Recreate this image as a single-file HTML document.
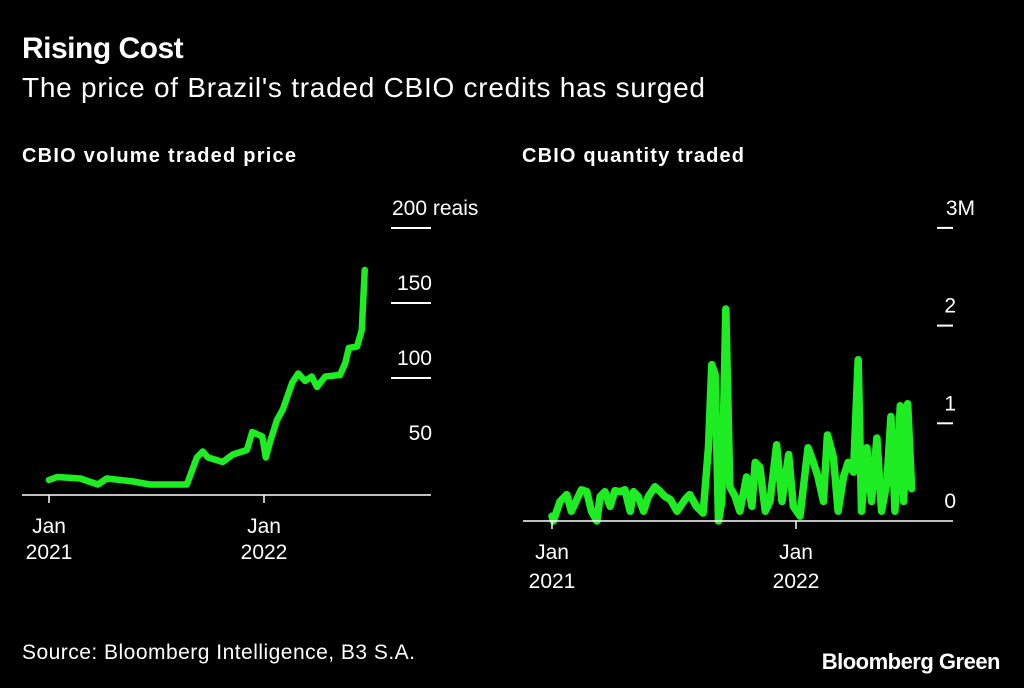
<!DOCTYPE html>
<html><head><meta charset="utf-8"><style>
body{margin:0;background:#000;width:1024px;height:683px;overflow:hidden;font-family:"Liberation Sans",Arial,sans-serif;color:#fff}
</style></head><body>
<svg width="1024" height="683" xmlns="http://www.w3.org/2000/svg" font-family="Liberation Sans, Arial, sans-serif">
<rect width="1024" height="683" fill="#000"/>
<text x="22" y="58" font-size="30" font-weight="bold" fill="#fff" letter-spacing="-0.5">Rising Cost</text>
<text x="22" y="97" font-size="28" fill="#fff" textLength="683">The price of Brazil's traded CBIO credits has surged</text>
<text x="22" y="162" font-size="20" font-weight="bold" fill="#fff" textLength="274">CBIO volume traded price</text>
<text x="522" y="162" font-size="20" font-weight="bold" fill="#fff" textLength="222">CBIO quantity traded</text>
<text x="22" y="659" font-size="21" fill="#fff" textLength="393">Source: Bloomberg Intelligence, B3 S.A.</text>
<text x="1000" y="669" font-size="22" font-weight="bold" fill="#fff" text-anchor="end" letter-spacing="-0.5">Bloomberg Green</text>
<g id="left"></g>
<g id="right"></g>
</svg>
<script>
const priceDays=[0,14,53,83,98,143,171,234,251,261,270,295,312,336,345,362,368,375,387,397,413,423,435,446,455,469,494,503,509,523,531,536];
const priceVals=[32,34,33,29,33,31,29,29,47,51,47,44,49,52,64,61,47,57,72,79,97,103,98,101,94,101,102,110,120,121,132,172];
const priceTicks=[200,150,100,50];
const qtyDays=[0,2,12,22,29,44,52,59,67,72,79,87,94,102,109,117,122,129,137,144,154,162,169,177,187,199,206,216,226,234,239,244,249,254,260,266,274,281,291,299,304,311,319,326,336,344,354,361,371,383,391,398,406,412,421,428,436,443,451,458,463,471,478,486,493,501,507,513,521,526,532,538];
const qtyVals=[0.05,0.0,0.2,0.27,0.1,0.32,0.3,0.1,0.0,0.25,0.3,0.15,0.31,0.3,0.32,0.1,0.3,0.25,0.1,0.25,0.35,0.3,0.25,0.22,0.1,0.22,0.27,0.15,0.08,0.75,1.6,1.5,0.0,0.2,2.17,0.35,0.25,0.1,0.45,0.15,0.6,0.55,0.1,0.2,0.78,0.2,0.68,0.15,0.05,0.75,0.6,0.45,0.2,0.88,0.65,0.1,0.45,0.6,0.5,1.65,0.1,0.75,0.2,0.85,0.1,0.4,1.07,0.1,1.18,0.2,1.2,0.33];
const qtyTicks=[3,2,1,0];
const qtyTickLabels=["3M","2","1","0"];
const xTickDays=[0,365];
const xTickLabels=[["Jan","2021"],["Jan","2022"]];
const NS="http://www.w3.org/2000/svg";
function mk(p,t,a){const e=document.createElementNS(NS,t);for(const k in a)e.setAttribute(k,a[k]);p.appendChild(e);return e;}
const GREEN="#1ded22";
const FS=21;
// left
const L=document.getElementById('left');
const lx=d=>49+d*215/365, ly=v=>528-v*1.5;
let e=mk(L,'line',{x1:22,x2:431,y1:495,y2:495,stroke:'#fff','stroke-width':1.5});

priceTicks.forEach(v=>{
 if(v!==50){e=mk(L,'line',{x1:391,x2:431,y1:ly(v),y2:ly(v),stroke:'#fff','stroke-width':2});
 }
 e=mk(L,'text',{x:432,y:ly(v)-13,'font-size':FS,fill:'#fff','text-anchor':'end'});
 e.textContent=v;
 if(v===200){e.setAttribute('text-anchor','start');e.setAttribute('x',392);e.textContent='200 reais';}
 
});
xTickDays.forEach((d,i)=>{
 e=mk(L,'line',{x1:lx(d),x2:lx(d),y1:495,y2:503,stroke:'#fff','stroke-width':1.5});
 
 e=mk(L,'text',{x:lx(d),y:533,'font-size':FS,fill:'#fff','text-anchor':'middle'});e.textContent=xTickLabels[i][0];
 
 e=mk(L,'text',{x:lx(d),y:559,'font-size':FS,fill:'#fff','text-anchor':'middle'});e.textContent=xTickLabels[i][1];
 
});
e=mk(L,'polyline',{points:priceDays.map((d,i)=>lx(d)+','+ly(priceVals[i])).join(' '),fill:'none',stroke:GREEN,'stroke-width':6.5,'stroke-linejoin':'round','stroke-linecap':'round'});

// right
const R=document.getElementById('right');
const rx=d=>552+d*244/365, ry=v=>521-v*97.7;
e=mk(R,'polyline',{points:qtyDays.map((d,i)=>rx(d)+','+ry(qtyVals[i])).join(' '),fill:'none',stroke:GREEN,'stroke-width':7.5,'stroke-linejoin':'round','stroke-linecap':'round'});

e=mk(R,'line',{x1:523,x2:953,y1:521,y2:521,stroke:'#fff','stroke-width':1.5});

qtyTicks.forEach((v,i)=>{
 if(v!==0){e=mk(R,'line',{x1:937,x2:953,y1:ry(v),y2:ry(v),stroke:'#fff','stroke-width':2});
 }
 e=mk(R,'text',{x:v===3?975:956,y:ry(v)-13,'font-size':FS,fill:'#fff','text-anchor':'end'});e.textContent=qtyTickLabels[i];
 
});
xTickDays.forEach((d,i)=>{
 e=mk(R,'line',{x1:rx(d),x2:rx(d),y1:521,y2:529,stroke:'#fff','stroke-width':1.5});
 
 e=mk(R,'text',{x:rx(d),y:559,'font-size':FS,fill:'#fff','text-anchor':'middle'});e.textContent=xTickLabels[i][0];
 
 e=mk(R,'text',{x:rx(d),y:588,'font-size':FS,fill:'#fff','text-anchor':'middle'});e.textContent=xTickLabels[i][1];
 
});
</script>
</body></html>
